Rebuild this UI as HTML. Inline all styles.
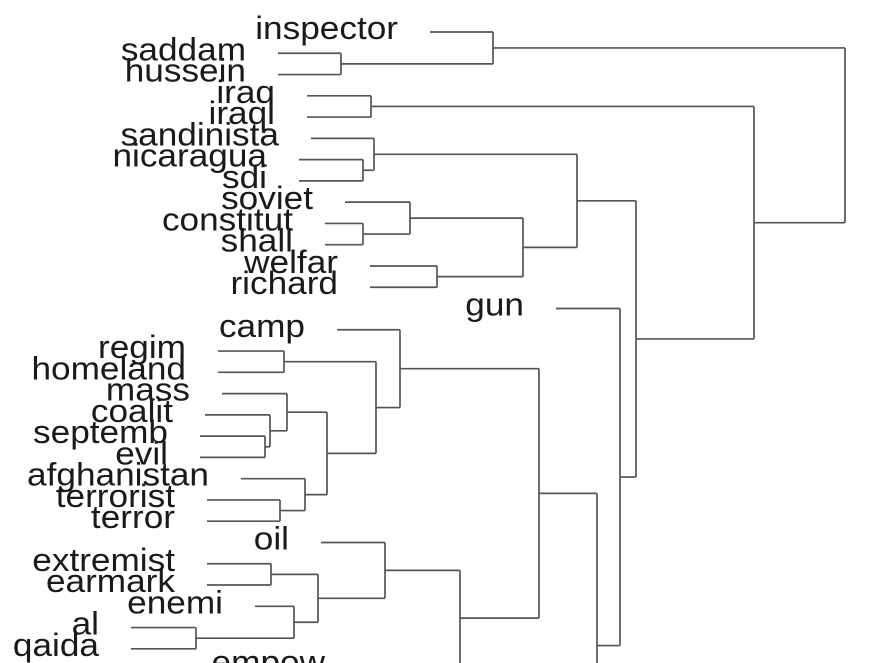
<!DOCTYPE html>
<html><head><meta charset="utf-8"><style>
html,body{margin:0;padding:0;background:#fff;width:870px;height:663px;overflow:hidden;}
svg{display:block;}
text{font-family:"Liberation Sans",sans-serif;font-size:32px;fill:#1a1a1a;}
</style></head><body>
<svg id="chart" width="870" height="663" viewBox="0 0 870 663" xmlns="http://www.w3.org/2000/svg">
<g id="links"></g>
<g id="labels"></g>
</svg>
<script>
// leaf labels (top to bottom) and their hang heights
const leafLabels = ["inspector","saddam","hussein","iraq","iraqi","sandinista","nicaragua","sdi","soviet","constitut","shall","welfar","richard","gun","camp","regim","homeland","mass","coalit","septemb","evil","afghanistan","terrorist","terror","oil","extremist","earmark","enemi","al","qaida","empow",""];
const leafSlots = [0,1,2,3,4,5,6,7,8,9,10,11,12,13,14,15,16,17,18,19,20,21,22,23,24,25,26,27,28,29,29.8,36];
const leafHeights = [33,17.8,17.8,20.7,20.7,21.1,19.9,19.9,24.5,22.5,22.5,27,27,45.6,23.7,11.8,11.8,12.2,10.5,10,10,14.1,10.7,10.7,22.1,10.7,10.7,15.5,3.1,3.1,25.7,45];
// merges: children refer to leaf index (number) or merge "m#"
const mergeLeft  = [1,0,3,6,5,9,8,11,"m6","m4",15,19,18,17,22,21,"m13","m10",14,25,28,27,"m19",24,"m23","m18","m25",13,"m9","m2","m1"];
const mergeRight = [2,"m0",4,7,"m3",10,"m5",12,"m7","m8",16,20,"m11","m12",23,"m14","m15","m16","m17",26,29,"m20","m21","m22",30,"m24",31,"m26","m27","m28","m29"];
const mergeHeights = [24.1,39.3,27.1,26.3,27.4,26.3,31,33.7,42.3,47.7,18.4,16.5,17,18.7,18,20.5,22.7,27.6,30,17.1,9.6,19.4,21.8,28.5,36,43.9,49.7,52,53.6,65.4,74.5];

const xScale = h => 100 + h * 10;
const yScale = s => 32 + s * 21.27;
const NS = "http://www.w3.org/2000/svg";
const links = document.getElementById("links");
const labels = document.getElementById("labels");

const nodeY = {}, nodeH = {};
leafLabels.forEach((lab, i) => { nodeY[i] = yScale(leafSlots[i]); nodeH[i] = leafHeights[i]; });

function line(x1,y1,x2,y2,name){
  const l = document.createElementNS(NS,"line");
  l.setAttribute("x1",x1); l.setAttribute("y1",y1);
  l.setAttribute("x2",x2); l.setAttribute("y2",y2);
  l.setAttribute("stroke","#555"); l.setAttribute("stroke-width","1.7");
  
  
  links.appendChild(l);
}

mergeHeights.forEach((h, k) => {
  const a = mergeLeft[k], b = mergeRight[k];
  const xm = xScale(h);
  line(xScale(nodeH[a]), nodeY[a], xm, nodeY[a], "branch-link");
  line(xScale(nodeH[b]), nodeY[b], xm, nodeY[b], "branch-link");
  line(xm, nodeY[a], xm, nodeY[b], "merge-link");
  nodeY["m"+k] = (nodeY[a] + nodeY[b]) / 2;
  nodeH["m"+k] = h;
});

leafLabels.forEach((lab, i) => {
  if (!lab) return;
  const t = document.createElementNS(NS,"text");
  const x = xScale(leafHeights[i]) - 32, y = nodeY[i] + 7;
  t.setAttribute("transform","translate(" + x + "," + y + ") scale(1.1,1)");
  t.setAttribute("text-anchor","end");
  t.textContent = lab;
  
  
  labels.appendChild(t);
});
</script>
</body></html>
